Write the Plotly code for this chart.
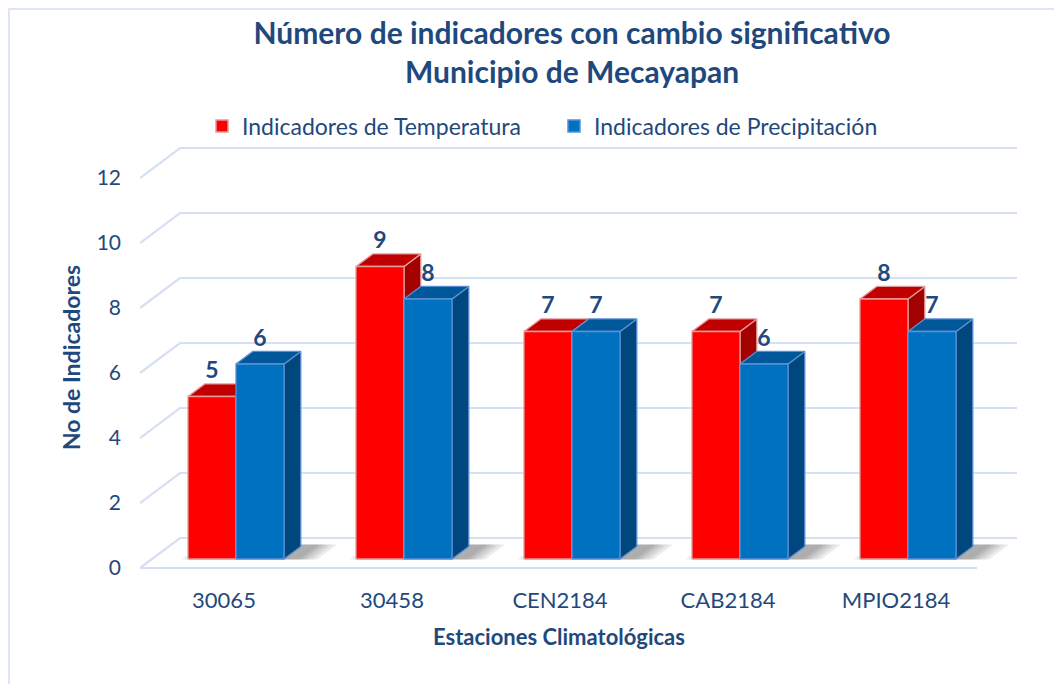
import plotly.graph_objects as go

# ---------------- data ----------------
stations = ["30065", "30458", "CEN2184", "CAB2184", "MPIO2184"]
temp_vals = [5, 9, 7, 7, 8]
prec_vals = [6, 8, 7, 6, 7]
series_names = ["Indicadores de Temperatura", "Indicadores de Precipitación"]
y_ticks = [0, 2, 4, 6, 8, 10, 12]

# ---------------- styling / geometry ----------------
OFF = 8                      # page body margin of the browser
W, H = 1062 - OFF, 684 - OFF
ML, MT = 140 - OFF, 140 - OFF
MR, MB = 42, 109
PX_CAT = 168.0               # pixels per category
PX_UNIT = 32.5               # pixels per value unit
plot_w = W - ML - MR
plot_h = H - MT - MB
x0 = -0.5
x1 = x0 + plot_w / PX_CAT
y0 = -(7 / PX_UNIT)
y1 = y0 + plot_h / PX_UNIT

DX = 40 / PX_CAT             # full depth, x offset (data units)
DY = 30 / PX_UNIT            # full depth, y offset (data units)
BAR_F = 0.30                 # depth of bar front plane
BAR_D = 0.42                 # bar depth (fraction)
BAR_W = 48 / PX_CAT          # bar width
FRONT_RIGHT = x0 + 837 / PX_CAT
BACK_RIGHT = x0 + 877 / PX_CAT


def py(p):
    """paper y from a page pixel row"""
    return 1 - (p - OFF - MT) / plot_h


def px(p):
    """paper x from a page pixel column"""
    return (p - OFF - ML) / plot_w


NAVY = "#1F497D"
GRID = "#D5E0F2"
RED = dict(front="#FF0000", top="#C00000", side="#A30000", edge="#E49A9A")
BLUE = dict(front="#0070C0", top="#00589B", side="#00477E", edge="#5B8FD2")
FONT = "Lato"

fig = go.Figure()

# ---------------- walls / gridlines ----------------
gx, gy = [], []
for v in y_ticks:
    gx += [x0, x0 + DX, BACK_RIGHT, None]
    gy += [v, v + DY, v + DY, None]
gx += [x0, FRONT_RIGHT, None]
gy += [0, 0, None]
fig.add_trace(go.Scatter(x=gx, y=gy, mode="lines", line=dict(color=GRID, width=2.2),
                         hoverinfo="skip", showlegend=False))

# ---------------- soft shadows on the floor ----------------
bx = BAR_F * DX
by = BAR_F * DY
bdx = BAR_D * DX
bdy = BAR_D * DY
for k in range(len(stations)):
    c = k + bx
    for e_px in [22, 17, 12, 8, 4]:
        e = e_px / PX_CAT
        xl = c - BAR_W - e * 0.8
        xr = c + BAR_W + e
        d0, d1 = BAR_F - 0.02, BAR_F + BAR_D + 0.06
        sx = [xl + d0 * DX, xr + d0 * DX, xr + d1 * DX, xl + d1 * DX, xl + d0 * DX]
        sy = [d0 * DY, d0 * DY, d1 * DY, d1 * DY, d0 * DY]
        fig.add_trace(go.Scatter(x=sx, y=sy, mode="lines", fill="toself",
                                 fillcolor="rgba(40,40,40,0.09)", line=dict(width=0),
                                 hoverinfo="skip", showlegend=False))


def faces(vals, side):
    fx, fy, tx, ty, sx, sy = [], [], [], [], [], []
    for k, v in enumerate(vals):
        c = k + bx
        xl, xr = (c - BAR_W, c) if side == 0 else (c, c + BAR_W)
        b, t = by, by + v
        fx += [xl, xr, xr, xl, xl, None]
        fy += [b, b, t, t, b, None]
        tx += [xl, xr, xr + bdx, xl + bdx, xl, None]
        ty += [t, t, t + bdy, t + bdy, t, None]
        sx += [xr, xr + bdx, xr + bdx, xr, xr, None]
        sy += [b, b + bdy, t + bdy, t, b, None]
    return (fx, fy), (tx, ty), (sx, sy)


for side, (vals, col) in enumerate([(temp_vals, RED), (prec_vals, BLUE)]):
    (fx, fy), (tx, ty), (sx, sy) = faces(vals, side)
    for xs, ys, fc in [(sx, sy, col["side"]), (tx, ty, col["top"]), (fx, fy, col["front"])]:
        fig.add_trace(go.Scatter(x=xs, y=ys, mode="lines", fill="toself", fillcolor=fc,
                                 line=dict(color=col["edge"], width=1.3),
                                 hoverinfo="skip", showlegend=False))

# ---------------- data labels ----------------
for side, vals in enumerate([temp_vals, prec_vals]):
    xs = [k + bx + (-BAR_W / 2 if side == 0 else BAR_W / 2) for k in range(len(vals))]
    ys = [by + v + 0.74 for v in vals]
    fig.add_trace(go.Scatter(x=xs, y=ys, mode="text", text=[str(v) for v in vals],
                             textfont=dict(family=FONT, size=23, color=NAVY, weight="bold"),
                             hoverinfo="skip", showlegend=False))

# ---------------- legend entries ----------------
for name, col in zip(series_names, [RED, BLUE]):
    fig.add_trace(go.Bar(x=[None], y=[None], name=name,
                         marker=dict(color=col["front"], line=dict(color=col["edge"], width=1.5))))

fig.update_layout(
    width=W, height=H,
    margin=dict(l=ML, r=MR, t=MT, b=MB, autoexpand=False),
    paper_bgcolor="white", plot_bgcolor="white",
    font=dict(family=FONT, color=NAVY, size=20),
    title=dict(text="Número de indicadores con cambio significativo<br>Municipio de Mecayapan",
               x=(572 - OFF) / W, xanchor="center", xref="container",
               y=1 - 36 / H, yanchor="middle",
               font=dict(family=FONT, size=30, color=NAVY, weight="bold")),
    legend=dict(orientation="h", x=px(202), xanchor="left",
                y=py(126), yanchor="middle",
                font=dict(family=FONT, size=23, color=NAVY),
                entrywidth=307, entrywidthmode="pixels", bgcolor="rgba(0,0,0,0)"),
    xaxis=dict(range=[x0, x1], tickvals=list(range(len(stations))), ticktext=stations,
               showgrid=False, zeroline=False, showline=False, ticks="", automargin=False,
               ticklabelstandoff=10, tickfont=dict(family=FONT, size=22, color=NAVY)),
    yaxis=dict(range=[y0, y1], tickvals=y_ticks, showgrid=False, zeroline=False,
               showline=False, ticks="", ticklabelstandoff=18, automargin=False,
               tickfont=dict(family=FONT, size=21, color=NAVY),
               title=dict(text="No de Indicadores", standoff=9,
                          font=dict(family=FONT, size=23, color=NAVY, weight="bold"))),
    annotations=[dict(text="Estaciones Climatológicas", xref="x", yref="paper",
                      x=(x0 + FRONT_RIGHT) / 2, y=py(636), xanchor="center", yanchor="middle",
                      showarrow=False,
                      font=dict(family=FONT, size=22, color=NAVY, weight="bold"))],
    shapes=[dict(type="rect", xref="paper", yref="paper",
                 x0=(1 - ML) / plot_w, x1=(W + 10 - ML) / plot_w,
                 y0=1 + (MT - 1) / plot_h, y1=-(H + 10 - MT - plot_h) / plot_h,
                 line=dict(color="#DCE6F5", width=2), layer="below")],
    showlegend=True,
)

fig.write_html("out.html")
